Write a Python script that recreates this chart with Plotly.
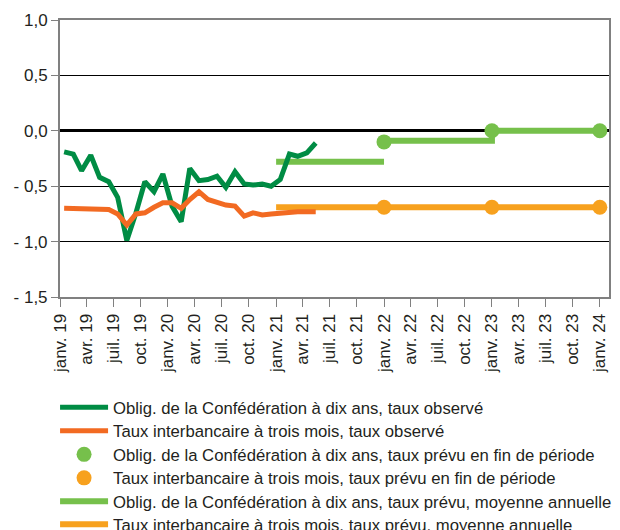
import plotly.graph_objects as go
import pandas as pd

# ---------------- data ----------------
obs_months = pd.date_range("2019-01-01", periods=29, freq="MS") + pd.Timedelta(days=14)
bond_obs = [-0.19, -0.21, -0.36, -0.22, -0.42, -0.46, -0.60, -0.99, -0.74, -0.46,
            -0.55, -0.39, -0.68, -0.82, -0.34, -0.45, -0.44, -0.41, -0.51, -0.37,
            -0.48, -0.49, -0.48, -0.50, -0.44, -0.21, -0.23, -0.20, -0.11]
libor_obs = [-0.70, -0.70, -0.70, -0.70, -0.70, -0.71, -0.75, -0.85, -0.75, -0.74,
             -0.69, -0.65, -0.65, -0.70, -0.62, -0.55, -0.62, -0.65, -0.67, -0.68,
             -0.77, -0.74, -0.76, -0.75, -0.74, -0.73, -0.73, -0.73, -0.73]

eop_dates = ["2022-01-01", "2023-01-01", "2024-01-01"]
bond_eop = [-0.10, 0.00, 0.00]
libor_eop = [-0.69, -0.69, -0.69]

avg_years = [2021, 2022, 2023]
bond_avg = [-0.28, -0.09, 0.00]
libor_avg = [-0.69, -0.69, -0.69]

tick_dates = pd.date_range("2019-01-01", "2024-01-01", freq="QS")
tick_labels = ["janv. 19", "avr. 19", "juil. 19", "oct. 19",
               "janv. 20", "avr. 20", "juil. 20", "oct. 20",
               "janv. 21", "avr. 21", "juil. 21", "oct. 21",
               "janv. 22", "avr. 22", "juil. 22", "oct. 22",
               "janv. 23", "avr. 23", "juil. 23", "oct. 23",
               "janv. 24"]
y_ticks = [1.0, 0.5, 0.0, -0.5, -1.0, -1.5]
y_labels = ["1,0", "0,5", "0,0", "- 0,5", "- 1,0", "- 1,5"]

names = [
    "Oblig. de la Confédération à dix ans, taux observé",
    "Taux interbancaire à trois mois, taux observé",
    "Oblig. de la Confédération à dix ans, taux prévu en fin de période",
    "Taux interbancaire à trois mois, taux prévu en fin de période",
    "Oblig. de la Confédération à dix ans, taux prévu, moyenne annuelle",
    "Taux interbancaire à trois mois, taux prévu, moyenne annuelle",
]

C_DGREEN = "#008C44"
C_ORANGE = "#F26A22"
C_LGREEN = "#76C04B"
C_LORANGE = "#F7A11E"


def bond_steps(years, vals):
    # first year drawn as its own segment, later years joined as a step line
    xs = [f"{years[0]}-01-01", f"{years[0] + 1}-01-01", None]
    ys = [vals[0], vals[0], None]
    for yr, v in zip(years[1:], vals[1:]):
        xs += [f"{yr}-01-01", f"{yr + 1}-01-01"]
        ys += [v, v]
    return xs, ys


def flat_steps(years, vals):
    xs, ys = [], []
    for yr, v in zip(years, vals):
        xs += [f"{yr}-01-01", f"{yr + 1}-01-01"]
        ys += [v, v]
    return xs, ys


fig = go.Figure()

bx, by = bond_steps(avg_years, bond_avg)
lx, ly = flat_steps(avg_years, libor_avg)

fig.add_trace(go.Scatter(x=bx, y=by, mode="lines", name=names[4], legend="legend5",
                         line=dict(color=C_LGREEN, width=6), connectgaps=False))
fig.add_trace(go.Scatter(x=lx, y=ly, mode="lines", name=names[5], legend="legend6",
                         line=dict(color=C_LORANGE, width=6)))
fig.add_trace(go.Scatter(x=obs_months, y=bond_obs, mode="lines", name=names[0], legend="legend",
                         line=dict(color=C_DGREEN, width=5)))
fig.add_trace(go.Scatter(x=obs_months, y=libor_obs, mode="lines", name=names[1], legend="legend2",
                         line=dict(color=C_ORANGE, width=5)))
fig.add_trace(go.Scatter(x=eop_dates, y=bond_eop, mode="markers", name=names[2], legend="legend3",
                         marker=dict(color=C_LGREEN, size=15)))
fig.add_trace(go.Scatter(x=eop_dates, y=libor_eop, mode="markers", name=names[3], legend="legend4",
                         marker=dict(color=C_LORANGE, size=15)))

FONT = "Liberation Sans, Arial, sans-serif"
TXT = "#231F20"

# page body adds an 8px offset; figure sized so that it ends at the window edge
W, H = 612, 522
L, T, R, B = 52, 12, 11, 233
plot_h = H - T - B  # 277

row_centers = [405.5, 429, 452.5, 476, 499.5, 522.5]  # window px


def legend_cfg(yc):
    top = yc - 15.5 - 8  # figure px
    return dict(x=-0.009, xanchor="left", y=(H - B - top) / plot_h, yanchor="top",
                font=dict(family=FONT, size=16.7, color=TXT), itemwidth=48,
                bgcolor="rgba(0,0,0,0)", borderwidth=0)


fig.update_layout(
    width=W, height=H,
    margin=dict(l=L, r=R, t=T, b=B, autoexpand=False),
    paper_bgcolor="white", plot_bgcolor="white",
    font=dict(family=FONT, size=17, color=TXT),
    showlegend=True,
    legend=legend_cfg(row_centers[0]),
    legend2=legend_cfg(row_centers[1]),
    legend3=legend_cfg(row_centers[2]),
    legend4=legend_cfg(row_centers[3]),
    legend5=legend_cfg(row_centers[4]),
    legend6=legend_cfg(row_centers[5]),
)

fig.update_xaxes(
    type="date", range=["2019-01-01", "2024-02-01"],
    tickmode="array", tickvals=tick_dates, ticktext=tick_labels, tickangle=-90,
    ticks="outside", ticklen=8, tickcolor="#808080", tickwidth=1,
    showgrid=False, showline=True, linecolor="#808080", linewidth=2, mirror=True,
    tickfont=dict(size=17, color=TXT), zeroline=False,
)
fig.update_yaxes(
    range=[-1.5, 1.0], tickmode="array", tickvals=y_ticks, ticktext=y_labels,
    ticks="outside", ticklen=7, tickcolor="#808080", tickwidth=1,
    showgrid=True, gridcolor="#000000", gridwidth=1,
    zeroline=True, zerolinecolor="#000000", zerolinewidth=3,
    showline=True, linecolor="#808080", linewidth=2, mirror=True,
    tickfont=dict(size=17, color=TXT),
)

fig.write_html("out.html")
